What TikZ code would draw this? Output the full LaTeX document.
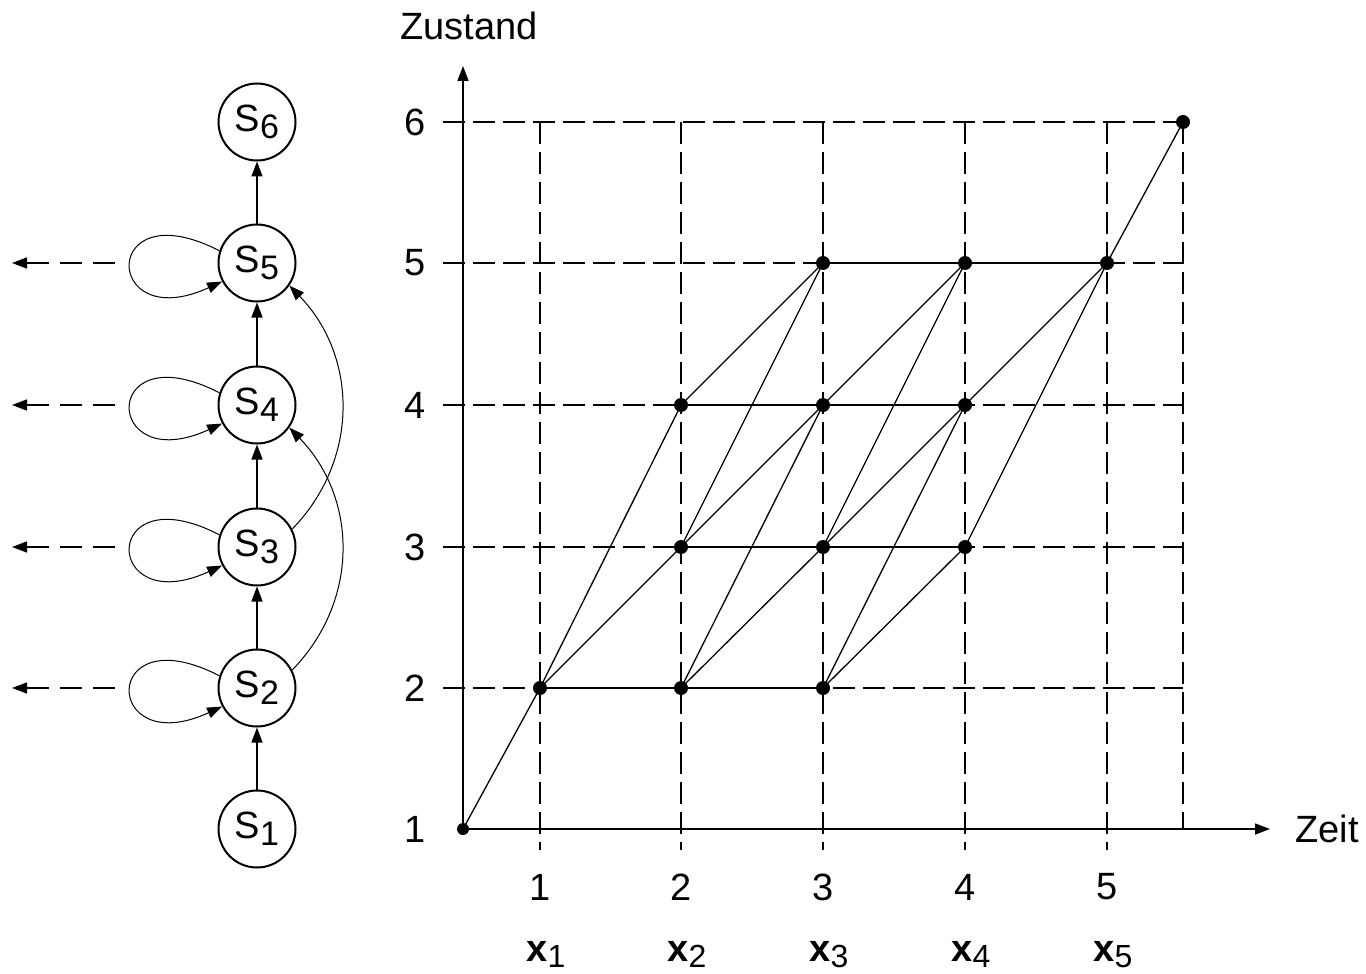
\documentclass[tikz,border=0pt]{standalone}
\usepackage{fontspec}
\setmainfont{Liberation Sans}
\usetikzlibrary{arrows.meta}
\newcommand{\lowsub}[1]{\raisebox{-3.5pt}{\fontsize{17}{17}\selectfont #1}}
\newcommand{\xsub}[1]{\raisebox{-3pt}{\fontsize{16}{16}\selectfont #1}}
\begin{document}
\begin{tikzpicture}[x=0.5pt,y=-0.5pt,
  lbl/.style={font=\fontsize{19}{22}\selectfont, inner sep=0pt},
  state/.style={circle, draw, line width=1pt, minimum size=38.5pt, inner sep=0pt, font=\fontsize{19}{22}\selectfont},
  tip/.style={-{Triangle[length=7.5pt,width=5.5pt]}},
  gridline/.style={dash pattern=on 11pt off 4pt, line width=0.6pt},
  dot/.style={circle, fill, inner sep=0pt, minimum size=7pt},
  edge/.style={line width=0.65pt},
  thin/.style={line width=0.5pt},
]
\useasboundingbox (0,0) rectangle (1366,974);

% ---------- left: state chain ----------
\node[state] (S1) at (257,829) {S\lowsub{1}};
\node[state] (S2) at (257,688) {S\lowsub{2}};
\node[state] (S3) at (257,547) {S\lowsub{3}};
\node[state] (S4) at (257,405) {S\lowsub{4}};
\node[state] (S5) at (257,263) {S\lowsub{5}};
\node[state] (S6) at (257,122) {S\lowsub{6}};

\draw[tip, line width=0.7pt] (S1) -- (S2);
\draw[tip, line width=0.7pt] (S2) -- (S3);
\draw[tip, line width=0.7pt] (S3) -- (S4);
\draw[tip, line width=0.7pt] (S4) -- (S5);
\draw[tip, line width=0.7pt] (S5) -- (S6);

\foreach \s in {2,3,4,5}{
  \draw[tip, thin] (S\s.162) .. controls +(-120,-62) and +(-120,55) .. (S\s.208);
}

\draw[tip, thin] (S2.27) .. controls +(68,-70) and +(68,70) .. (S4.-35);
\draw[tip, thin] (S3.27) .. controls +(68,-70) and +(68,70) .. (S5.-35);

\foreach \s/\y in {2/688,3/547,4/405,5/263}{
  \coordinate (La\s) at (115,\y);
  \coordinate (Lb\s) at (12,\y);
  \draw[tip, dash pattern=on 11pt off 5.5pt, line width=0.7pt] (La\s) -- (Lb\s);
}

% ---------- right: trellis ----------
\foreach \y in {122,263,405,547,688}{
  \draw[gridline] (443,\y) -- (1183,\y);
}
\foreach \x in {540,681,823,965,1107}{
  \draw[gridline] (\x,122) -- (\x,850);
}
\draw[gridline] (1183,122) -- (1183,829);

% axes
\node[dot, minimum size=6pt] (O) at (463,829) {};
\coordinate (Yend) at (463,66);
\coordinate (Xend) at (1270,829);
\draw[tip, line width=0.8pt] (O.center) -- (Yend);
\draw[tip, line width=0.8pt] (O.center) -- (Xend);

\node[lbl] (zust) at (469,26) {Zustand};
\node[lbl, anchor=west] (zeit) at (1295,829) {Zeit};

\foreach \n/\y in {1/829,2/688,3/547,4/405,5/263,6/122}{
  \node[lbl] (yl\n) at (415,\y) {\n};
}
\foreach \n/\x in {1/540,2/681,3/823,4/965,5/1107}{
  \node[lbl] (xl\n) at (\x,887) {\n};
  \node[lbl, anchor=base] (xs\n) at (\x+6,961) {\textbf{x}\xsub{\n}};
}

% trellis points
\node[dot] (t1s2) at (540,688) {};
\node[dot] (t2s2) at (681,688) {};
\node[dot] (t2s3) at (681,547) {};
\node[dot] (t2s4) at (681,405) {};
\node[dot] (t3s2) at (823,688) {};
\node[dot] (t3s3) at (823,547) {};
\node[dot] (t3s4) at (823,405) {};
\node[dot] (t3s5) at (823,263) {};
\node[dot] (t4s3) at (965,547) {};
\node[dot] (t4s4) at (965,405) {};
\node[dot] (t4s5) at (965,263) {};
\node[dot] (t5s5) at (1107,263) {};
\node[dot] (E) at (1183,122) {};

\foreach \a/\b in {O/t1s2,
  t1s2/t2s2, t1s2/t2s3, t1s2/t2s4,
  t2s2/t3s2, t2s2/t3s3, t2s2/t3s4,
  t2s3/t3s3, t2s3/t3s4, t2s3/t3s5,
  t2s4/t3s4, t2s4/t3s5,
  t3s2/t4s3, t3s2/t4s4,
  t3s3/t4s3, t3s3/t4s4, t3s3/t4s5,
  t3s4/t4s4, t3s4/t4s5,
  t3s5/t4s5,
  t4s3/t5s5, t4s4/t5s5, t4s5/t5s5,
  t5s5/E}{
  \draw[edge] (\a.center) -- (\b.center);
}
\end{tikzpicture}
\end{document}
